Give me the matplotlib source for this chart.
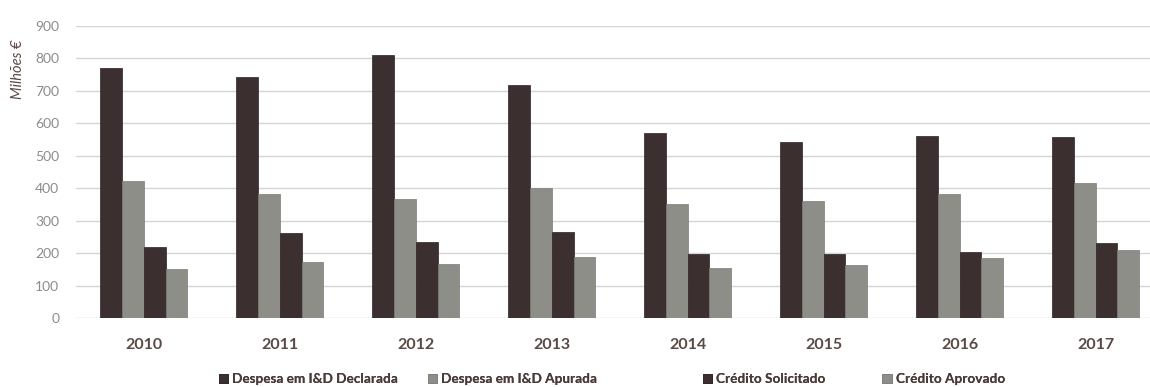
import numpy as np
import matplotlib.pyplot as plt

years = ['2010', '2011', '2012', '2013', '2014', '2015', '2016', '2017']
declarada = [771, 744, 811, 718, 569, 543, 560, 558]
apurada = [423, 381, 367, 400, 353, 360, 381, 416]
solicitado = [220, 261, 233, 264, 197, 197, 203, 231]
aprovado = [150, 174, 166, 188, 155, 165, 184, 210]

series = [
    ('Despesa em I&D Declarada', declarada, '#3b2f30'),
    ('Despesa em I&D Apurada', apurada, '#8e8e88'),
    ('Crédito Solicitado', solicitado, '#3b2f30'),
    ('Crédito Aprovado', aprovado, '#8e8e88'),
]

plt.rcParams['font.family'] = ['Lato', 'DejaVu Sans']

fig = plt.figure(figsize=(11.5, 3.87), dpi=100)
ax = fig.add_axes([0.066, 0.178, 0.934, 0.755])

x = np.arange(len(years))
w = 0.16
bars = []
for i, (name, vals, col) in enumerate(series):
    b = ax.bar(x + (i - 1.5) * w, vals, width=w, color=col, label=name,
               edgecolor='#2a2222' if col == '#3b2f30' else '#7c7c76',
               linewidth=0.5, zorder=3)
    bars.append(b)

ax.set_ylim(0, 900)
ax.set_xlim(-0.5, 7.4)
ax.set_yticks(range(0, 901, 100))
ax.yaxis.grid(True, color='#d6d6d6', linewidth=1.0, zorder=0)
for s in ax.spines.values():
    s.set_visible(False)
ax.tick_params(axis='y', length=0, labelsize=10, labelcolor='#8c8c8c', pad=12)
ax.tick_params(axis='x', length=0, labelsize=11.5, labelcolor='#5a4944', pad=14)
ax.set_xticks(x)
ax.set_xticklabels(years, fontweight='bold')

fig.text(0.016, 0.82, 'Milhões €', rotation=90, ha='center', va='center',
         fontsize=10.5, style='italic', color='#5a4944')

# one legend per entry, spaced like the original layout
legend_x = [0.190, 0.372, 0.611, 0.767]
for b, (name, _, _), lx in zip(bars, series, legend_x):
    leg = fig.legend([b], [name], loc='center left', bbox_to_anchor=(lx, 0.02),
                     frameon=False, handlelength=0.7, handleheight=0.7,
                     handletextpad=0.3, borderpad=0, borderaxespad=0,
                     prop={'weight': 'bold', 'size': 9.8})
    leg.get_texts()[0].set_color('#4a3b37')
    fig.add_artist(leg)

fig.savefig('out.png', dpi=100)
